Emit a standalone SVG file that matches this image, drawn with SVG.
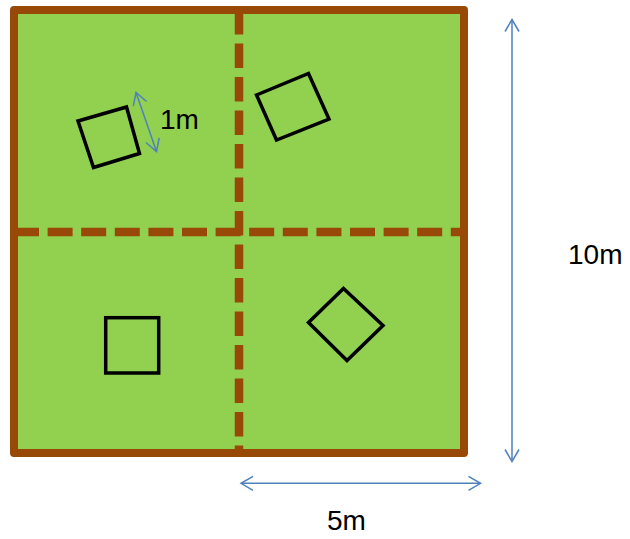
<svg xmlns="http://www.w3.org/2000/svg" width="630" height="539" viewBox="0 0 630 539">
  <defs>
    <style>
      .field { fill: #92D050; stroke: #984807; stroke-width: 8; stroke-linejoin: round; }
      .divider { fill: none; stroke: #984807; stroke-width: 8.5; stroke-dasharray: 24.5 9; }
      .quadrat { fill: none; stroke: #000000; stroke-width: 3.5; stroke-linejoin: miter; }
      .dim { fill: none; stroke: #4F81BD; stroke-width: 1.5; marker-start: url(#arrow); marker-end: url(#arrow); }
      .label { font-family: "Liberation Sans", Arial, sans-serif; font-size: 28px; fill: #000000; }
    </style>
    <marker id="arrow" markerUnits="userSpaceOnUse" viewBox="-14 -9 16 18" refX="0" refY="0" markerWidth="16" markerHeight="18" orient="auto-start-reverse">
      <path d="M-12,-7 L0,0 L-12,7" fill="none" stroke="#4F81BD" stroke-width="1.5"/>
    </marker>
  </defs>

  <g id="field">
    <rect class="field" x="14" y="10" width="450" height="443"/>
  </g>

  <g id="dividers">
    <line class="divider" x1="239" y1="10" x2="239" y2="453"/>
    <line class="divider" x1="14" y1="232" x2="464" y2="232" style="stroke-dasharray: 25 8.6"/>
  </g>

  <g id="quadrat-top-left">
    <polygon class="quadrat" points="78,121 126.5,107 139.5,153.5 93.5,167.5"/>
  </g>
  <g id="quadrat-top-right">
    <polygon class="quadrat" points="256.5,95 308.5,73.5 329,119 276.5,140"/>
  </g>
  <g id="quadrat-bottom-left">
    <rect class="quadrat" x="105.7" y="317.7" width="53" height="55.3"/>
  </g>
  <g id="quadrat-bottom-right">
    <polygon class="quadrat" points="343.5,288.5 383,325.5 347,360.5 308.5,322.5"/>
  </g>

  <g id="dimensions">
    <line class="dim" x1="136" y1="92.5" x2="156.5" y2="151.5"/>
    <line class="dim" x1="512" y1="19.5" x2="512" y2="461.5"/>
    <line class="dim" x1="241" y1="483.3" x2="480.5" y2="483.3"/>
  </g>

  <g id="labels">
    <text class="label" x="160" y="129">1m</text>
    <text class="label" x="568" y="263.5">10m</text>
    <text class="label" x="327" y="530">5m</text>
  </g>
</svg>
